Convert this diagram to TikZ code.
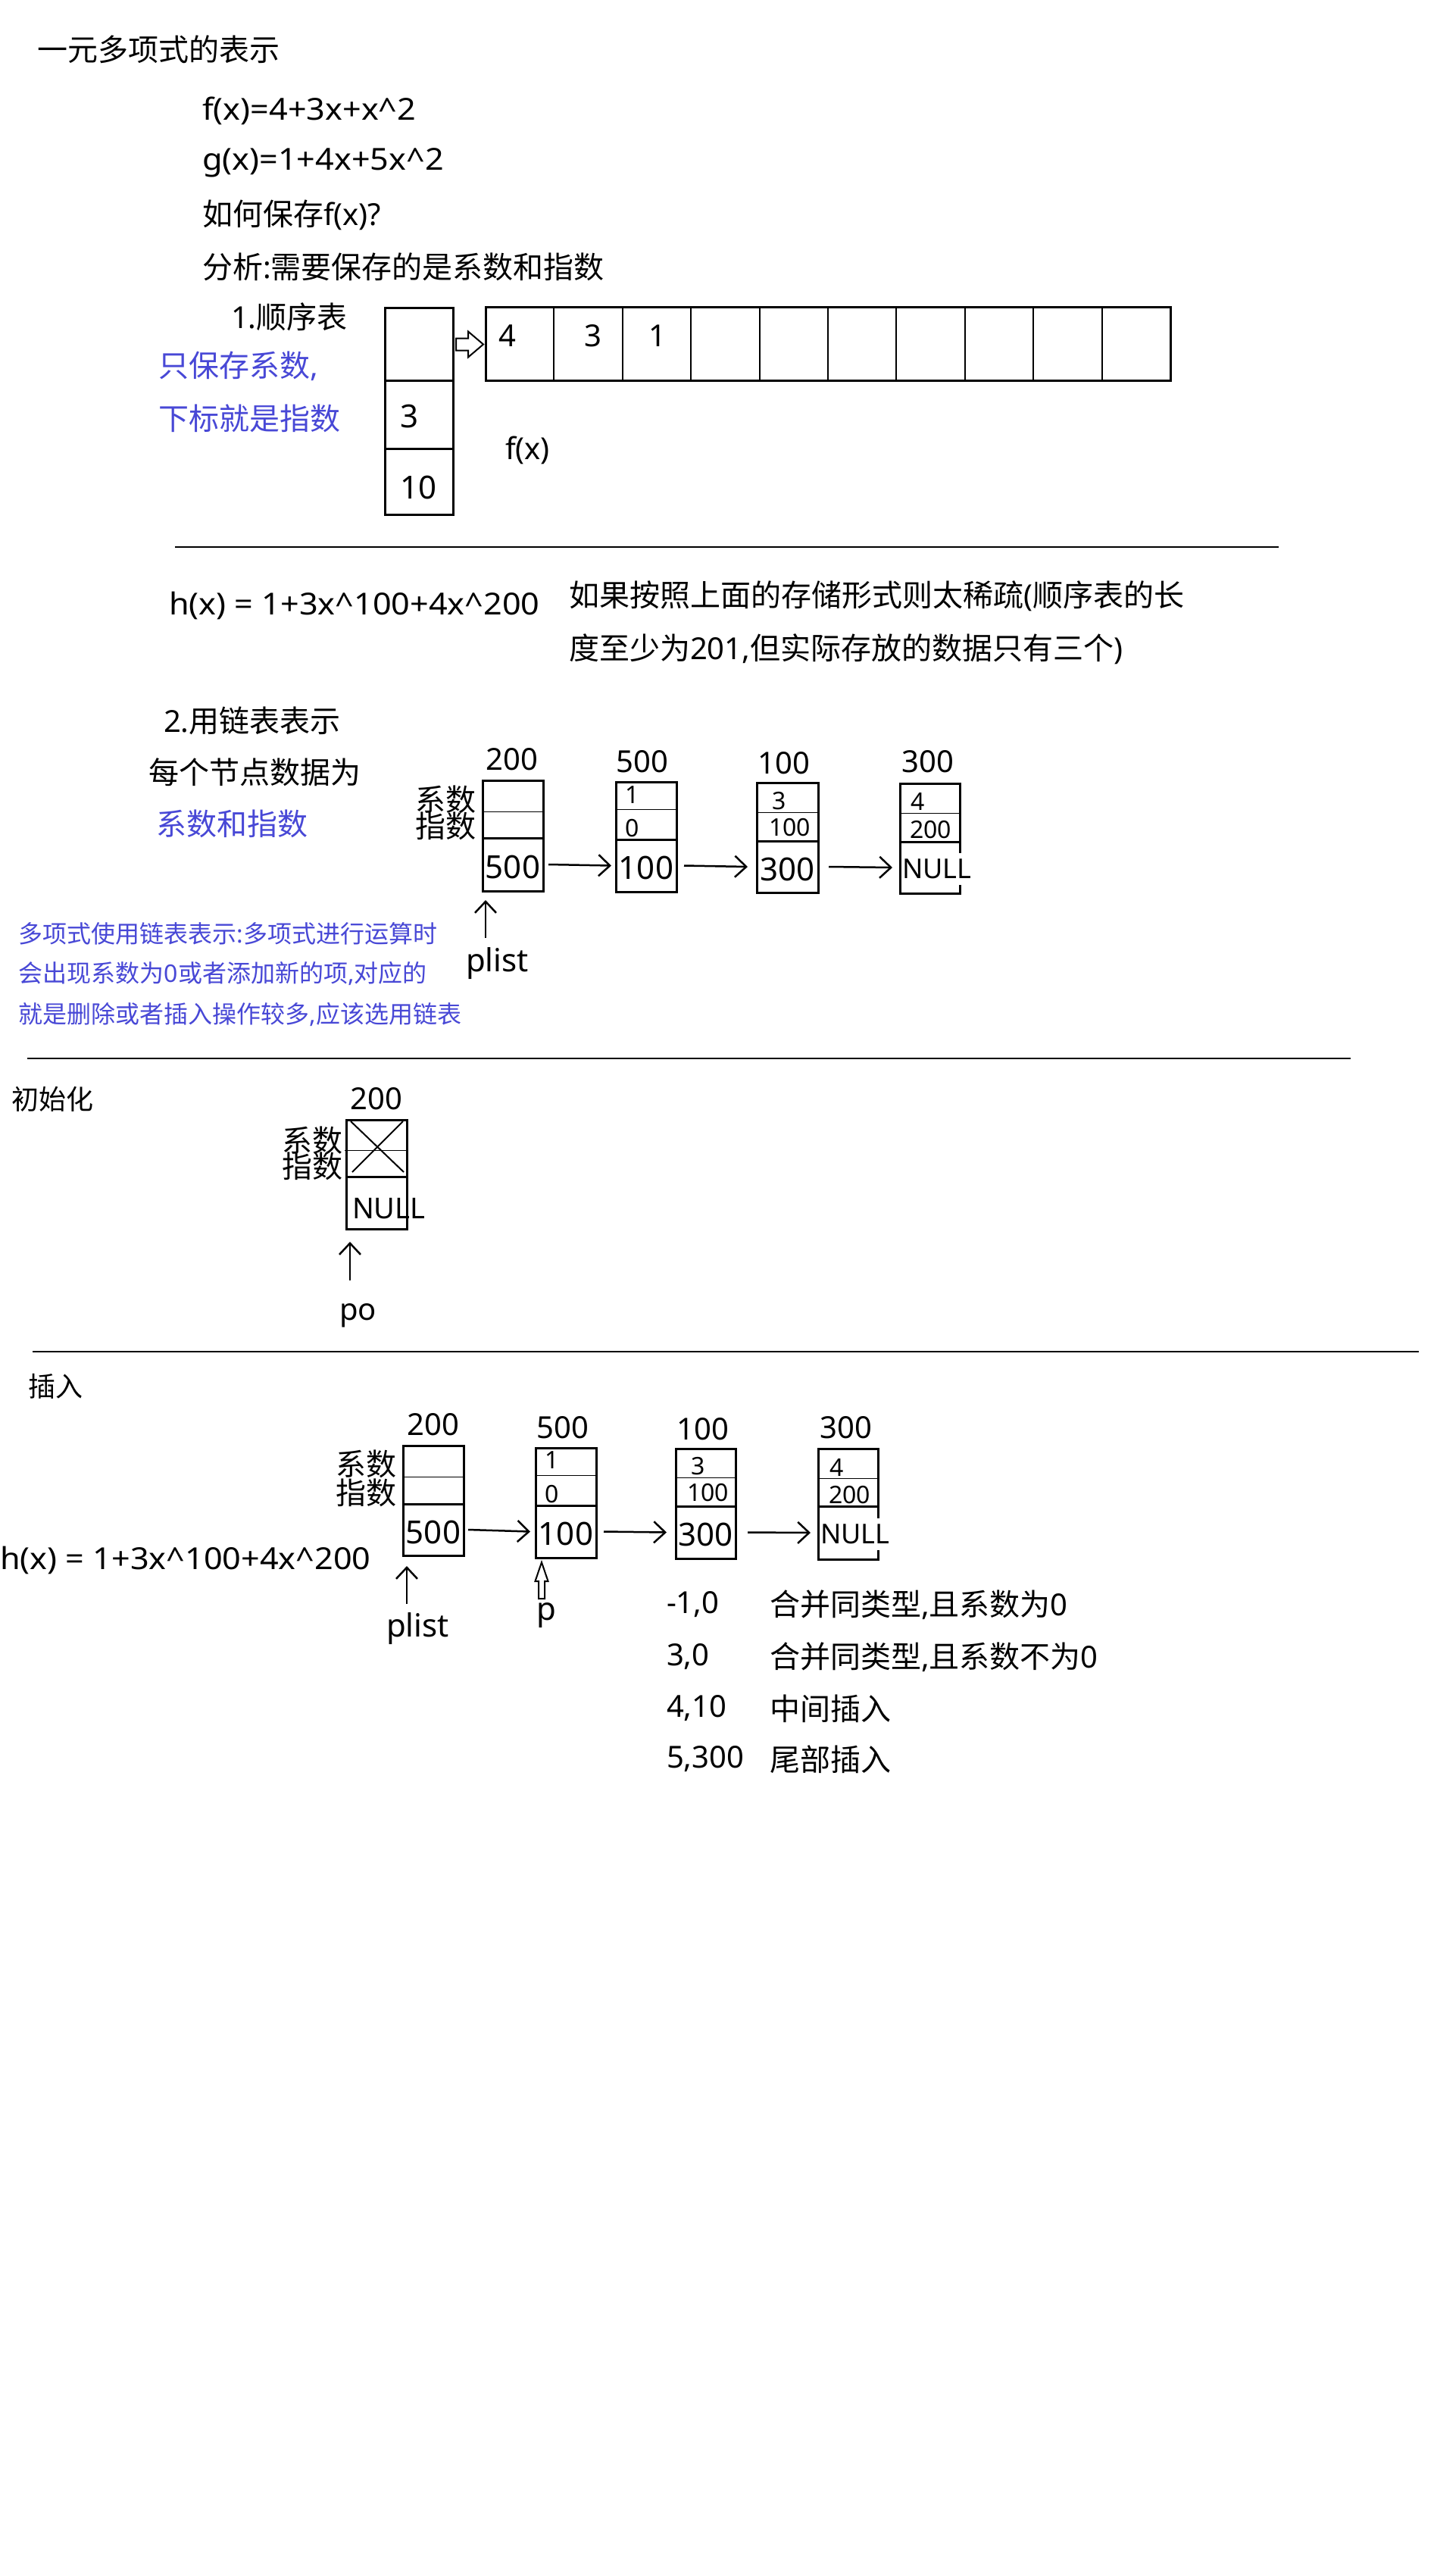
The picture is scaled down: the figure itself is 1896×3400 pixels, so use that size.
\documentclass[tikz,border=0pt]{standalone}
\usepackage{fontspec}
\setmainfont{Noto Sans}
\newfontfamily\cjk{Noto Sans CJK SC}
\newfontfamily\latw[FakeStretch=1.08]{Noto Sans}
\usetikzlibrary{arrows.meta,calc,fit}
\definecolor{noteblue}{RGB}{72,72,214}
\newcommand\fsz[1]{\fontsize{#1pt}{#1pt}\selectfont}
\newcommand\lnode[7]{%
  \node[part,fit={(#2,#4)(#3,#6)}] (#1u) {};
  \node[part,fit={(#2,#6)(#3,#7)}] (#1v) {};
  \draw[thinline] (#2,#5) -- (#3,#5);
}
\begin{document}
\begin{tikzpicture}[x=0.5pt,y=-0.5pt,
  every node/.style={inner sep=0pt,outer sep=0pt},
  txt/.style={anchor=west,font=\fsz{20}},
  widetxt/.style={anchor=west,font=\latw\fsz{20}},
  smalltxt/.style={anchor=west,font=\fsz{18}},
  note/.style={anchor=west,font=\fsz{16},text=noteblue},
  bluetxt/.style={txt,text=noteblue},
  lab/.style={font=\fsz{20}},
  val/.style={font=\fsz{21},yshift=-1.5pt},
  sml/.style={anchor=west,font=\fsz{16}},
  nul/.style={anchor=west,font=\fsz{18},fill=white,inner ysep=4pt},
  keylab/.style={anchor=east,font=\fsz{20}},
  part/.style={draw,line width=1.5pt,inner sep=0pt},
  thinline/.style={line width=0.5pt},
  arr/.style={line width=1.25pt,-{Straight Barb[length=7.5pt,width=14pt]}},
  rulel/.style={line width=1.4pt},
  hollow/.style={draw,line width=1pt,fill=white},
]
\fill[white] (0,0) rectangle (1896,3400);
\useasboundingbox (0,0) rectangle (1896,3400);

% ---------- section 1 ----------
\node[txt] (title) at (49,65) {\cjk 一元多项式的表示};
\node[widetxt] (fx) at (267,146) {f(x)=4+3x+x\textasciicircum 2};
\node[widetxt] (gx) at (267,215) {g(x)=1+4x+5x\textasciicircum 2};
\node[txt] (how) at (267,284) {{\cjk 如何保存}f(x)?};
\node[txt] (ana) at (267,352) {{\cjk 分析}:{\cjk 需要保存的是系数和指数}};
\node[txt] (s1) at (305,418) {1.{\cjk 顺序表}};
\node[bluetxt] (b1) at (209,483) {{\cjk 只保存系数},};
\node[bluetxt] (b2) at (209,552) {\cjk 下标就是指数};

\node[part,fit={(508,406)(598,502)}] (vb0) {};
\node[part,fit={(508,502)(598,592)}] (vb1) {};
\node[part,fit={(508,592)(598,679)}] (vb2) {};
\node[anchor=west,font=\fsz{21}] (vb1t) at (528,549) {3};
\node[anchor=west,font=\fsz{21}] (vb2t) at (528,643) {10};

\foreach \i in {0,...,9}{
  \node[draw,line width=1pt,fit={({641+\i*90.4},405)({641+(\i+1)*90.4},502)}] (t\i) {};
}
\draw[line width=1.5pt] (t0.north west) rectangle (t9.south east);
\node[txt] (t0t) at (658,443) {4};
\node[txt] (t1t) at (771,443) {3};
\node[txt] (t2t) at (856,443) {1};

\draw[hollow] ($(vb0.east)+(4,-7.5)$) -- ++(16,0) -- ++(0,-9) -- ($(t0.west)+(-3,1)$)
  -- ($(vb0.east)+(20,17.5)$) -- ++(0,-9) -- ++(-16,0) -- cycle;
\node[txt] (fxl) at (667,594) {f(x)};

\draw[rulel] (231,722) -- (1688,722);

% ---------- section 2 ----------
\node[widetxt] (hx) at (223,799) {h(x) = 1+3x\textasciicircum 100+4x\textasciicircum 200};
\node[txt] (c1) at (751,787) {{\cjk 如果按照上面的存储形式则太稀疏}({\cjk 顺序表的长}};
\node[txt] (c2) at (751,857) {{\cjk 度至少为}201,{\cjk 但实际存放的数据只有三个})};
\node[txt] (s2) at (216,951) {2.{\cjk 用链表表示}};
\node[txt] (each) at (196,1019) {\cjk 每个节点数据为};
\node[bluetxt] (b3) at (206,1087) {\cjk 系数和指数};
\node[keylab] (k1) at (628,1055) {\cjk 系数};
\node[keylab] (k2) at (628,1090) {\cjk 指数};

\lnode{A}{637}{717}{1030}{1071}{1106}{1176}
\lnode{B}{813}{893}{1032}{1068}{1108}{1177}
\lnode{C}{999}{1080}{1033}{1072}{1110}{1178}
\lnode{D}{1188}{1267}{1034}{1073}{1111}{1179}

\node[lab] (Al) at (676,1002) {200};
\node[lab] (Bl) at (848,1005) {500};
\node[lab] (Cl) at (1035,1007) {100};
\node[lab] (Dl) at (1225,1005) {300};
\node[val] (Avt) at (Av) {500};
\node[val] (Bvt) at (Bv) {100};
\node[val] (Cvt) at (Cv) {300};
\node[sml] (B1) at (825,1049) {1};
\node[sml] (B0) at (825,1093) {0};
\node[sml] (C1) at (1019,1057) {3};
\node[sml] (C0) at (1015,1092) {100};
\node[sml] (D1) at (1202,1058) {4};
\node[sml] (D0) at (1201,1095) {200};
\node[nul] (Dvt) at (1191,1147) {NULL};

\draw[arr] ([xshift=3.5pt]Av.east) -- ([xshift=-3pt]Bv.west);
\draw[arr] ([xshift=5pt]Bv.east) -- ([xshift=-6pt]Cv.west);
\draw[arr] ([xshift=7pt]Cv.east) -- ([xshift=-5pt]Dv.west);

\node[anchor=west,font=\fsz{21}] (pl1) at (615,1272) {plist};
\draw[arr] ($(Av.south west)+(4,62)$) -- ($(Av.south west)+(4,12)$);

\node[note] (n1) at (25,1232) {{\cjk 多项式使用链表表示}:{\cjk 多项式进行运算时}};
\node[note] (n2) at (25,1285) {{\cjk 会出现系数为}0{\cjk 或者添加新的项},{\cjk 对应的}};
\node[note] (n3) at (25,1339) {{\cjk 就是删除或者插入操作较多},{\cjk 应该选用链表}};

\draw[rulel] (36,1397) -- (1783,1397);

% ---------- section 3 ----------
\node[smalltxt] (init) at (15,1451) {\cjk 初始化};
\node[part,fit={(457,1478)(537,1553)}] (Iu) {};
\node[part,fit={(457,1553)(537,1622)}] (Iv) {};
\draw[thinline] (455,1518) -- (539,1518);
\draw[line width=1pt] ($(Iu.north west)+(6,2)$) -- ($(Iu.south east)+(-4,-6)$);
\draw[line width=1pt] ($(Iu.north east)+(-5,2)$) -- ($(Iu.south west)+(8,-6)$);
\node[lab] (Il) at (497,1450) {200};
\node[keylab] (k3) at (452,1505) {\cjk 系数};
\node[keylab] (k4) at (452,1539) {\cjk 指数};
\node[anchor=west,font=\fsz{19}] (Ivt) at (465,1595) {NULL};
\draw[arr] ($(Iv.south west)+(5,68)$) -- ($(Iv.south west)+(5,17)$);
\node[txt] (po) at (448,1736) {po};

\draw[rulel] (43,1784) -- (1873,1784);

% ---------- section 4 ----------
\node[smalltxt] (ins) at (37,1830) {\cjk 插入};
\node[widetxt] (hx2) at (0,2059) {h(x) = 1+3x\textasciicircum 100+4x\textasciicircum 200};
\node[keylab] (k5) at (523,1932) {\cjk 系数};
\node[keylab] (k6) at (523,1970) {\cjk 指数};

\lnode{E}{532}{612}{1908}{1949}{1985}{2053}
\lnode{F}{707}{787}{1911}{1947}{1987}{2056}
\lnode{G}{892}{971}{1912}{1950}{1988}{2057}
\lnode{H}{1080}{1159}{1912}{1951}{1988}{2058}

\node[lab] (El) at (572,1880) {200};
\node[lab] (Fl) at (743,1884) {500};
\node[lab] (Gl) at (928,1886) {100};
\node[lab] (Hl) at (1117,1884) {300};
\node[val] (Evt) at (Ev) {500};
\node[val] (Fvt) at (Fv) {100};
\node[val] (Gvt) at (Gv) {300};
\node[sml] (F1) at (719,1927) {1};
\node[sml] (F0) at (719,1972) {0};
\node[sml] (G1) at (912,1935) {3};
\node[sml] (G0) at (907,1970) {100};
\node[sml] (H1) at (1095,1937) {4};
\node[sml] (H0) at (1094,1973) {200};
\node[nul] (Hvt) at (1083,2025) {NULL};

\draw[arr] ([xshift=3pt]Ev.east) -- ([xshift=-3.5pt]Fv.west);
\draw[arr] ([xshift=5pt]Fv.east) -- ([xshift=-6pt]Gv.west);
\draw[arr] ([xshift=8pt]Gv.east) -- ([xshift=-5pt]Hv.west);

\node[anchor=west,font=\fsz{21}] (pl2) at (510,2150) {plist};
\draw[arr] ($(Ev.south west)+(5,64)$) -- ($(Ev.south west)+(5,14)$);

\draw[hollow] ($(Fv.south west)+(8,6)$) -- ++(8.5,25) -- ++(-4.5,0) -- ++(0,23)
  -- ++(-8,0) -- ++(0,-23) -- ++(-4.5,0) -- cycle;
\node[anchor=west,font=\fsz{21}] (pp) at (708,2132) {p};

\node[txt] (r1a) at (880,2118) {-1,0};
\node[txt] (r1b) at (1016,2118) {{\cjk 合并同类型},{\cjk 且系数为}0};
\node[txt] (r2a) at (880,2187) {3,0};
\node[txt] (r2b) at (1016,2187) {{\cjk 合并同类型},{\cjk 且系数不为}0};
\node[txt] (r3a) at (880,2255) {4,10};
\node[txt] (r3b) at (1016,2255) {\cjk 中间插入};
\node[txt] (r4a) at (880,2322) {5,300};
\node[txt] (r4b) at (1016,2322) {\cjk 尾部插入};
\end{tikzpicture}
\end{document}
